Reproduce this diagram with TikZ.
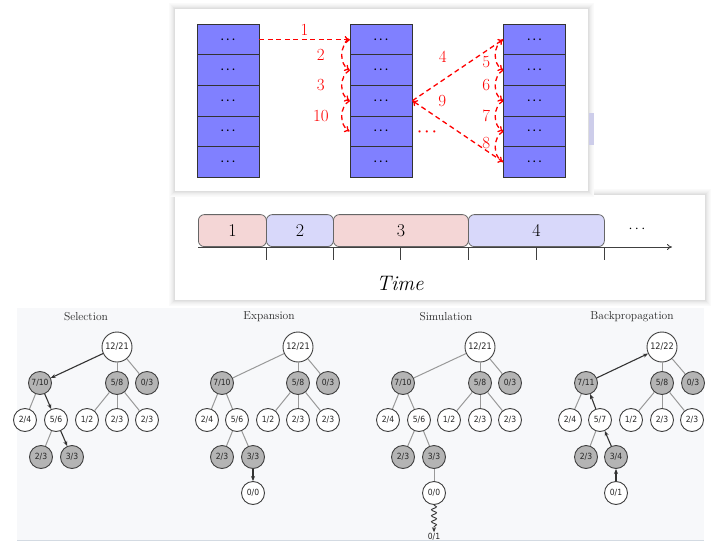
\documentclass[tikz,border=0pt]{standalone}
\usepackage{fontspec}
\newfontfamily\labfont[FakeStretch=0.9]{DejaVu Sans}
\usetikzlibrary{positioning}
\usetikzlibrary{arrows.meta}
\usetikzlibrary{decorations.pathmorphing}
\definecolor{cellblue}{HTML}{8080FF}
\definecolor{slotred}{HTML}{F4D6D6}
\definecolor{slotblue}{HTML}{D8D8FA}
\definecolor{panelbg}{HTML}{F7F8FA}
\definecolor{panelline}{HTML}{D3DAE2}
\definecolor{winnode}{HTML}{B4B4B4}
\definecolor{scrap}{HTML}{CDCDEA}
\definecolor{hopred}{HTML}{FF0000}
\tikzset{
    cell/.style = {rectangle, draw=black!80, line width=0.8pt, fill=cellblue, minimum width=62pt, minimum height=30.6pt, inner sep=0pt, font=\fontsize{11}{11}\selectfont\boldmath},
    hop/.style = {draw=hopred, line width=1.3pt, dash pattern=on 5pt off 3.5pt, -{To[length=5pt,width=7pt]}},
    hoplabel/.style = {text=hopred, font=\fontsize{17}{17}\selectfont},
    slot/.style = {rectangle, rounded corners=6pt, draw=black!60, line width=0.8pt, minimum height=32pt, inner sep=0pt, anchor=south west, font=\fontsize{18}{18}\selectfont},
    axis/.style = {draw=black!75, line width=0.8pt, -{To[length=5pt,width=6pt]}},
    tick/.style = {draw=black!75, line width=0.8pt},
    tnode/.style = {circle, draw=black!75, line width=0.9pt, fill=white, minimum size=23pt, inner sep=0pt, font=\labfont\fontsize{8.5}{9}\selectfont, text=black!85},
    troot/.style = {tnode, minimum size=30pt, font=\labfont\fontsize{9}{9}\selectfont},
    twin/.style = {tnode, fill=winnode},
    tedge/.style = {draw=black!40, line width=1pt},
    tpath/.style = {draw=black!80, line width=1.1pt, -{Stealth[length=5pt,width=4pt]}},
    ttitle/.style = {font=\fontsize{11.5}{12}\selectfont, text=black!85},
}

\begin{document}
\begin{tikzpicture}[x=1pt,y=1pt]
\useasboundingbox (0,0) rectangle (722,-548);
\fill[white] (0,0) rectangle (722,-548);

% bottom panel
\fill[panelbg] (17,-308) rectangle (704,-540);
\draw[panelline, line width=1pt] (17,-540) -- (704,-540);

% middle panel
\foreach \g/\c in {6/2,5/3,4/5,3/7,2/10,1/13}
  \fill[black!\c] ({175-\g},{-195+\g}) rectangle ({705+\g},{-300-\g});
\fill[white] (175,-195) rectangle (705,-300);

% top panel
\foreach \g/\c in {6/2,5/3,4/5,3/7,2/10,1/13}
  \fill[black!\c] ({175-\g},{-9+\g}) rectangle ({588+\g},{-191-\g});
\fill[white] (175,-9) rectangle (588,-191);
\fill[scrap] (589,-113) rectangle (594,-145);

% stacks
\foreach \i [evaluate=\i as \y using -39.5-30.6*(\i-1)] in {1,...,5} {
  \node[cell] (L\i) at (228,\y) {$\cdots$};
  \node[cell] (M\i) at (381,\y) {$\cdots$};
  \node[cell] (R\i) at (534.5,\y) {$\cdots$};
}
%
\draw[hop] (L1.east) -- node[hoplabel, above] {1} (M1.west);
\draw[hop] (M1.west) to[bend right=60] node[hoplabel, xshift=-21pt] {2} (M2.west);
\draw[hop] (M2.west) to[bend right=60] node[hoplabel, xshift=-21pt] {3} (M3.west);
\draw[hop] (M3.west) to[bend right=60] node[hoplabel, xshift=-21pt] {10} (M4.west);
\draw[hop] (M3.east) -- node[hoplabel, xshift=-15pt, yshift=13pt] {4} (R1.west);
\draw[hop] (R1.west) to[bend right=60] node[hoplabel, xshift=-9pt, yshift=-7pt] {5} (R2.west);
\draw[hop] (R2.west) to[bend right=60] node[hoplabel, xshift=-9pt] {6} (R3.west);
\draw[hop] (R3.west) to[bend right=60] node[hoplabel, xshift=-9pt] {7} (R4.west);
\draw[hop] (R4.west) to[bend right=60] node[hoplabel, xshift=-9pt, yshift=4pt] {8} (R5.west);
\draw[hop] (R5.west) -- node[hoplabel, pos=0.67, yshift=20pt] {9} (M3.east);
\node[text=hopred, font=\fontsize{14}{14}\selectfont\boldmath] (gap) at (427,-132) {$\cdots$};

% timeline
\node[slot, fill=slotred, minimum width=68pt] (t1) at (198,-247) {1};
\node[slot, fill=slotblue, minimum width=67pt] (t2) at (266,-247) {2};
\node[slot, fill=slotred, minimum width=135pt] (t3) at (333,-247) {3};
\node[slot, fill=slotblue, minimum width=136pt] (t4) at (468,-247) {4};
\coordinate (t0) at (198,-247);
\coordinate (tend) at (672,-247);
\draw[axis] (t0) -- (tend);
\foreach \x in {266,333,400,468,536,604}
  \draw[tick] (\x,-247) -- (\x,-260);
\node[font=\fontsize{15}{15}\selectfont] (more) at (637,-229) {$\cdots$};
\node[font=\itshape\fontsize{21}{21}\selectfont] (tlabel) at (400,-283) {Time};

% selection
\begin{scope}[shift={(117,-347)}]
\node[ttitle] (stitle) at (-31,30) {Selection};
\node[troot] (s0) at (0,0) {12/21};
\node[twin] (s1) at (-77,-36) {7/10};
\node[twin] (s2) at (0,-36) {5/8};
\node[twin] (s3) at (30,-36) {0/3};
\node[tnode] (s11) at (-92,-73) {2/4};
\node[tnode] (s12) at (-61,-73) {5/6};
\node[tnode] (s21) at (-30,-73) {1/2};
\node[tnode] (s22) at (0,-73) {2/3};
\node[tnode] (s23) at (30,-73) {2/3};
\node[twin] (s121) at (-76,-110) {2/3};
\node[twin] (s122) at (-45,-110) {3/3};
%
\draw[tpath] (s0) -- (s1);
\draw[tedge] (s0) -- (s2);
\draw[tedge] (s0) -- (s3);
\draw[tedge] (s1) -- (s11);
\draw[tpath] (s1) -- (s12);
\draw[tedge] (s2) -- (s21);
\draw[tedge] (s2) -- (s22);
\draw[tedge] (s2) -- (s23);
\draw[tedge] (s12) -- (s121);
\draw[tpath] (s12) -- (s122);
\end{scope}

% expansion
\begin{scope}[shift={(298,-347)}]
\node[ttitle] (etitle) at (-29,30) {Expansion};
\node[troot] (e0) at (0,0) {12/21};
\node[twin] (e1) at (-76,-36) {7/10};
\node[twin] (e2) at (0,-36) {5/8};
\node[twin] (e3) at (30,-36) {0/3};
\node[tnode] (e11) at (-91,-73) {2/4};
\node[tnode] (e12) at (-61,-73) {5/6};
\node[tnode] (e21) at (-30,-73) {1/2};
\node[tnode] (e22) at (0,-73) {2/3};
\node[tnode] (e23) at (30,-73) {2/3};
\node[twin] (e121) at (-76,-110) {2/3};
\node[twin] (e122) at (-45,-110) {3/3};
\node[tnode] (e1221) at (-45,-146) {0/0};
%
\draw[tedge] (e0) -- (e1);
\draw[tedge] (e0) -- (e2);
\draw[tedge] (e0) -- (e3);
\draw[tedge] (e1) -- (e11);
\draw[tedge] (e1) -- (e12);
\draw[tedge] (e2) -- (e21);
\draw[tedge] (e2) -- (e22);
\draw[tedge] (e2) -- (e23);
\draw[tedge] (e12) -- (e121);
\draw[tedge] (e12) -- (e122);
\draw[tpath] (e122) -- (e1221);
\end{scope}

% simulation
\begin{scope}[shift={(480,-347)}]
\node[ttitle] (mtitle) at (-34,30) {Simulation};
\node[troot] (m0) at (0,0) {12/21};
\node[twin] (m1) at (-77,-36) {7/10};
\node[twin] (m2) at (0,-36) {5/8};
\node[twin] (m3) at (30,-36) {0/3};
\node[tnode] (m11) at (-92,-73) {2/4};
\node[tnode] (m12) at (-61,-73) {5/6};
\node[tnode] (m21) at (-31,-73) {1/2};
\node[tnode] (m22) at (0,-73) {2/3};
\node[tnode] (m23) at (30,-73) {2/3};
\node[twin] (m121) at (-77,-110) {2/3};
\node[twin] (m122) at (-46,-110) {3/3};
\node[tnode] (m1221) at (-46,-146) {0/0};
\node[inner sep=1pt, font=\labfont\fontsize{8.5}{9}\selectfont, text=black!85] (m12211) at (-46,-190) {0/1};
%
\draw[tedge] (m0) -- (m1);
\draw[tedge] (m0) -- (m2);
\draw[tedge] (m0) -- (m3);
\draw[tedge] (m1) -- (m11);
\draw[tedge] (m1) -- (m12);
\draw[tedge] (m2) -- (m21);
\draw[tedge] (m2) -- (m22);
\draw[tedge] (m2) -- (m23);
\draw[tedge] (m12) -- (m121);
\draw[tedge] (m12) -- (m122);
\draw[tedge] (m122) -- (m1221);
\draw[tpath, line width=0.9pt, decorate, decoration={snake, amplitude=2.5pt, segment length=6pt, post length=3pt}] (m1221) -- (m12211);
\end{scope}

% backpropagation
\begin{scope}[shift={(662,-347)}]
\node[ttitle] (btitle) at (-30,30) {Backpropagation};
\node[troot] (b0) at (0,0) {12/22};
\node[twin] (b1) at (-76,-36) {7/11};
\node[twin] (b2) at (0,-36) {5/8};
\node[twin] (b3) at (31,-36) {0/3};
\node[tnode] (b11) at (-92,-73) {2/4};
\node[tnode] (b12) at (-62,-73) {5/7};
\node[tnode] (b21) at (-31,-73) {1/2};
\node[tnode] (b22) at (0,-73) {2/3};
\node[tnode] (b23) at (30,-73) {2/3};
\node[twin] (b121) at (-76,-110) {2/3};
\node[twin] (b122) at (-46,-110) {3/4};
\node[tnode] (b1221) at (-46,-146) {0/1};
%
\draw[tpath] (b1) -- (b0);
\draw[tedge] (b0) -- (b2);
\draw[tedge] (b0) -- (b3);
\draw[tedge] (b1) -- (b11);
\draw[tpath] (b12) -- (b1);
\draw[tedge] (b2) -- (b21);
\draw[tedge] (b2) -- (b22);
\draw[tedge] (b2) -- (b23);
\draw[tedge] (b12) -- (b121);
\draw[tpath] (b122) -- (b12);
\draw[tpath] (b1221) -- (b122);
\end{scope}

\end{tikzpicture}
\end{document}
